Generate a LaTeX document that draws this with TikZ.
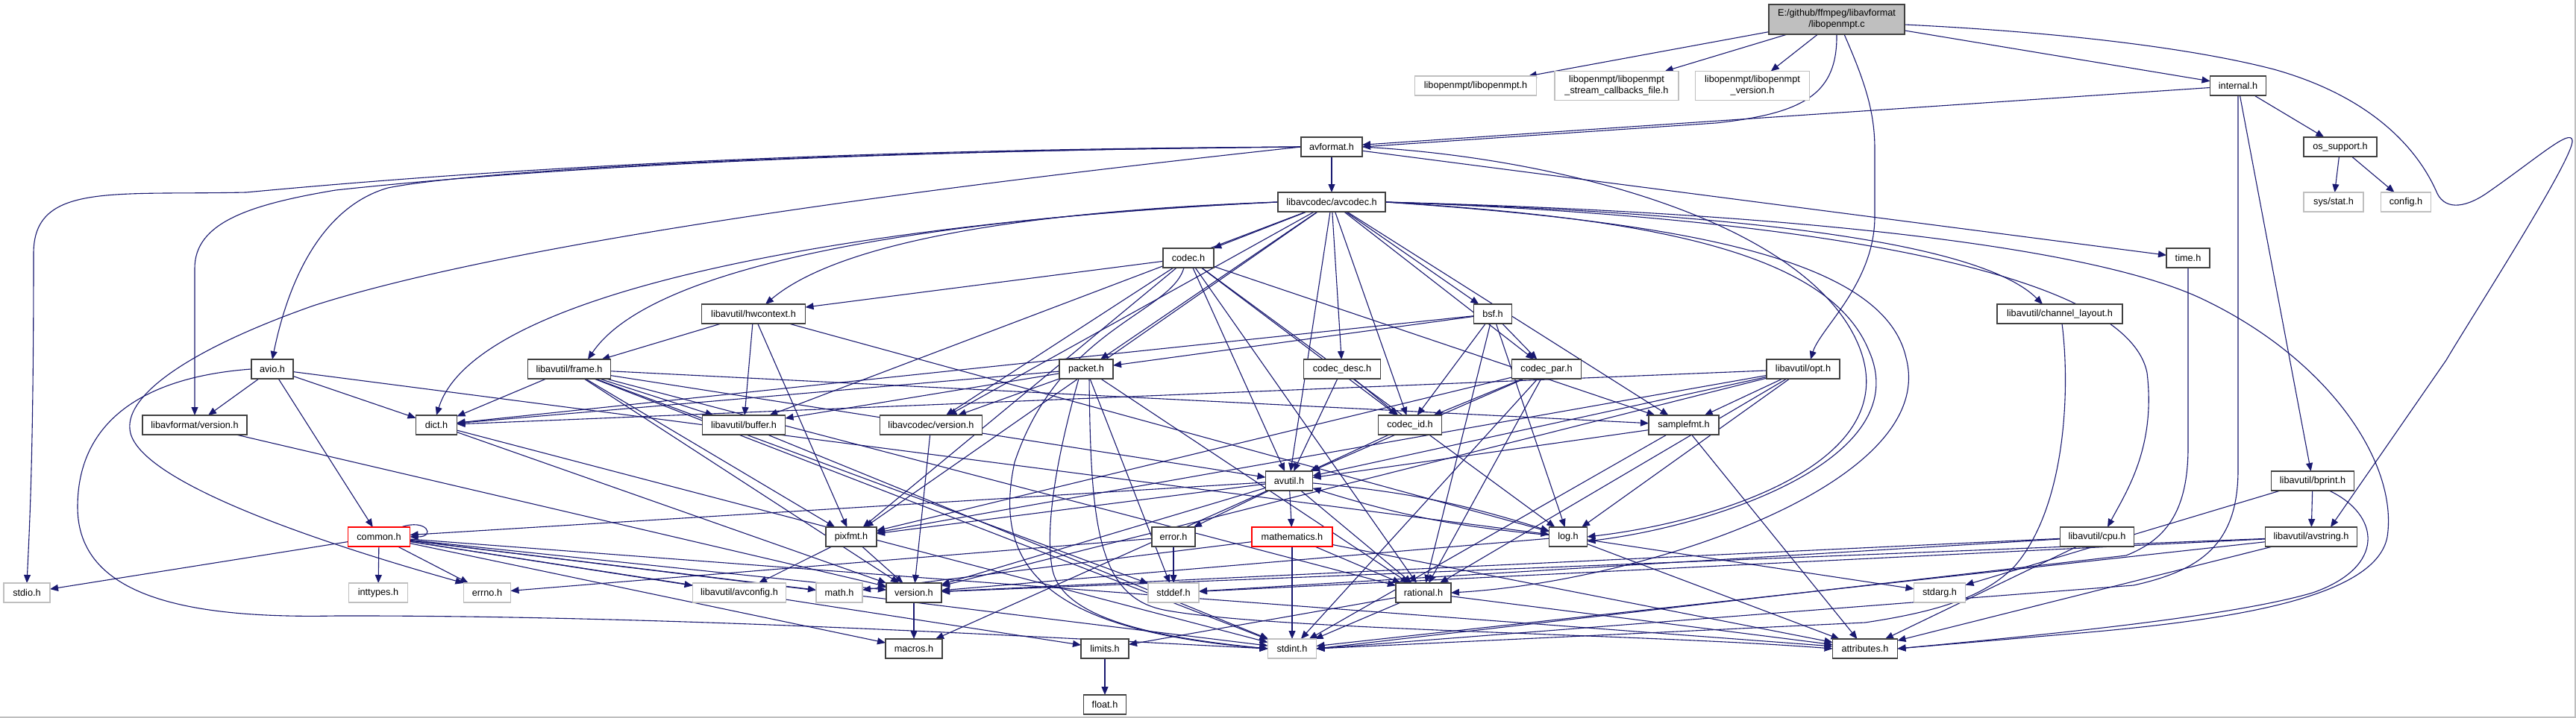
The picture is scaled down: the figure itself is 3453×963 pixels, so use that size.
\documentclass[tikz,border=0pt]{standalone}
\usepackage{fontspec}
\newfontfamily\dfont{Liberation Sans}
\usetikzlibrary{arrows.meta,calc}
\definecolor{edgec}{RGB}{25,25,112}
\definecolor{nodeb}{RGB}{64,64,64}
\definecolor{grayb}{RGB}{191,191,191}
\definecolor{mainf}{RGB}{191,191,191}
\pgfdeclarelayer{bg}
\pgfsetlayers{bg,main}
\tikzset{
 nd/.style={draw=nodeb, fill=white, line width=1.3pt, minimum height=26pt, inner sep=0pt, outer sep=0pt, font=\dfont\fontsize{12.7}{15}\selectfont, text=black},
 gy/.style={nd, draw=grayb},
 rd/.style={nd, draw=red},
 e/.style={draw=edgec, line width=1.1pt, -{Triangle[length=11pt,width=9pt]}},
}
\begin{document}
\begin{tikzpicture}[x=1pt,y=-1pt]
\useasboundingbox (0,0) rectangle (3453,963);
% nodes
\node[nd, fill=mainf, minimum width=182pt, minimum height=40pt, align=center] (main) at (2462,26) {E:/github/ffmpeg/libavformat\\/libopenmpt.c};
\node[gy, minimum width=163pt] (lompt) at (1978,115) {libopenmpt/libopenmpt.h};
\node[gy, minimum width=166pt, minimum height=39pt, align=center] (lcb) at (2167,115) {libopenmpt/libopenmpt\\\_stream\_callbacks\_file.h};
\node[gy, minimum width=153pt, minimum height=39pt, align=center] (lver) at (2349,115) {libopenmpt/libopenmpt\\\_version.h};
\node[nd, minimum width=75pt] (internal) at (3000,115) {internal.h};
\node[nd, minimum width=82pt] (avformat) at (1785,197) {avformat.h};
\node[nd, minimum width=98pt] (ossup) at (3137,197) {os\_support.h};
\node[nd, minimum width=144pt] (avcodec) at (1785,271) {libavcodec/avcodec.h};
\node[gy, minimum width=80pt] (sysstat) at (3128,271) {sys/stat.h};
\node[gy, minimum width=67pt] (config) at (3225,271) {config.h};
\node[nd, minimum width=68pt] (codec) at (1593,346) {codec.h};
\node[nd, minimum width=58pt] (timeh) at (2933,346) {time.h};
\node[nd, minimum width=139pt] (hwctx) at (1010,421) {libavutil/hwcontext.h};
\node[nd, minimum width=51pt] (bsf) at (2001,421) {bsf.h};
\node[nd, minimum width=168pt] (chl) at (2761,421) {libavutil/channel\_layout.h};
\node[nd, minimum width=56pt] (avio) at (365,495) {avio.h};
\node[nd, minimum width=111pt] (frame) at (763,495) {libavutil/frame.h};
\node[nd, minimum width=72pt] (packet) at (1456,495) {packet.h};
\node[nd, minimum width=103pt] (cdesc) at (1799,495) {codec\_desc.h};
\node[nd, minimum width=93pt] (cpar) at (2073,495) {codec\_par.h};
\node[nd, minimum width=98pt] (opt) at (2417,495) {libavutil/opt.h};
\node[nd, minimum width=140pt] (lavfver) at (261,570) {libavformat/version.h};
\node[nd, minimum width=55pt] (dict) at (585,570) {dict.h};
\node[nd, minimum width=111pt] (buffer) at (997,570) {libavutil/buffer.h};
\node[nd, minimum width=137pt] (lavcver) at (1248,570) {libavcodec/version.h};
\node[nd, minimum width=85pt] (cid) at (1890,570) {codec\_id.h};
\node[nd, minimum width=94pt] (sfmt) at (2257,570) {samplefmt.h};
\node[nd, minimum width=63pt] (avutil) at (1728,645) {avutil.h};
\node[nd, minimum width=111pt] (bprint) at (3100,645) {libavutil/bprint.h};
\node[rd, minimum width=83pt] (common) at (508,720) {common.h};
\node[nd, minimum width=68pt] (pixfmt) at (1141,720) {pixfmt.h};
\node[nd, minimum width=58pt] (error) at (1573,720) {error.h};
\node[rd, minimum width=108pt] (mathem) at (1732,720) {mathematics.h};
\node[nd, minimum width=51pt] (log) at (2102,720) {log.h};
\node[nd, minimum width=99pt] (cpu) at (2811,720) {libavutil/cpu.h};
\node[nd, minimum width=123pt] (avstring) at (3098,720) {libavutil/avstring.h};
\node[gy, minimum width=62pt] (stdio) at (36,795) {stdio.h};
\node[gy, minimum width=79pt] (inttypes) at (507,795) {inttypes.h};
\node[gy, minimum width=63pt] (errno) at (653,795) {errno.h};
\node[gy, minimum width=125pt] (avconfig) at (991,795) {libavutil/avconfig.h};
\node[gy, minimum width=62pt] (mathh) at (1125,795) {math.h};
\node[nd, minimum width=74pt] (version) at (1225,795) {version.h};
\node[gy, minimum width=68pt] (stddef) at (1573,795) {stddef.h};
\node[nd, minimum width=74pt] (rational) at (1908,795) {rational.h};
\node[gy, minimum width=69pt] (stdarg) at (2600,795) {stdarg.h};
\node[nd, minimum width=76pt] (macros) at (1225,870) {macros.h};
\node[nd, minimum width=64pt] (limits) at (1481,870) {limits.h};
\node[gy, minimum width=65pt] (stdint) at (1732,870) {stdint.h};
\node[nd, minimum width=87pt] (attributes) at (2500,870) {attributes.h};
\node[nd, minimum width=57pt] (float) at (1481,945) {float.h};
\begin{pgfonlayer}{bg}
\fill[white] (0,0) rectangle (3453,963);
\draw[grayb, line width=2pt] (0,962) -- (3452,962) -- (3452,0);
\foreach \a/\b in {main/lompt, main/lcb, main/lver, main/internal,
 internal/avformat, internal/ossup, internal/bprint, ossup/sysstat, ossup/config,
 avformat/avcodec, avformat/timeh,
 avcodec/codec, avcodec/bsf, avcodec/cdesc, avcodec/cpar, avcodec/cid, avcodec/packet, avcodec/lavcver, avcodec/avutil, avcodec/buffer, avcodec/sfmt, avcodec/pixfmt,
 codec/hwctx, codec/avutil, codec/log, codec/pixfmt, codec/rational, codec/sfmt, codec/cid, codec/lavcver,
 bsf/dict, bsf/log, bsf/rational, bsf/cid, bsf/cpar, bsf/packet,
 cdesc/avutil, cdesc/cid, cid/avutil,
 cpar/stdint, cpar/avutil, cpar/rational, cpar/pixfmt, cpar/cid,
 packet/stddef, packet/buffer, packet/dict, packet/rational, packet/lavcver,
 lavcver/version,
 hwctx/buffer, hwctx/frame, hwctx/log, hwctx/pixfmt,
 frame/stddef, frame/stdint, frame/avutil, frame/buffer, frame/dict, frame/rational, frame/sfmt, frame/pixfmt, frame/version,
 buffer/stdint, dict/stdint, dict/version,
 sfmt/stdint, sfmt/avutil, sfmt/attributes,
 avutil/common, avutil/error, avutil/rational, avutil/version, avutil/macros, avutil/mathem, avutil/pixfmt,
 common/errno, common/inttypes, common/limits, common/mathh, common/stdint, common/stdio, common/attributes, common/macros, common/version, common/avconfig,
 error/errno, error/stddef,
 rational/stdint, rational/limits, rational/attributes,
 mathem/stdint, mathem/mathh, mathem/attributes, mathem/rational,
 log/stdarg, log/attributes, log/version,
 pixfmt/avconfig, pixfmt/version, version/macros,
 cpu/stddef, cpu/attributes, cpu/version,
 opt/rational, opt/avutil, opt/dict, opt/log, opt/pixfmt, opt/sfmt, opt/version,
 avstring/stddef, avstring/stdint, avstring/attributes, avstring/version,
 bprint/stdarg, bprint/avstring,
 avio/common, avio/dict, avio/log, avio/lavfver,
 lavfver/version, limits/float}
 \draw[e] (\a) -- (\b);
\draw[e] (avformat.east) .. controls (2100,212) and (2420,300) .. (2490,460) .. controls (2560,620) and (2300,700) .. (log.east);
\draw[e] (avcodec.east) .. controls (2200,292) and (2450,335) .. (2505,470) .. controls (2570,615) and (2300,705) .. ([yshift=-6pt]log.east);
\draw[e] (avcodec.east) .. controls (2250,298) and (2525,345) .. (2555,480) .. controls (2600,650) and (2200,780) .. (rational.east);
\draw[e] (avcodec.east) .. controls (2300,285) and (2650,320) .. ([xshift=-23pt]chl.north);
\draw[e] ([xshift=4pt]packet.south) .. controls (1462,700) and (1470,800) .. (1560,818) .. controls (1700,845) and (2200,850) .. (attributes.west);
\draw[e] ([xshift=-10pt]packet.south) .. controls (1420,600) and (1400,700) .. (1410,760) .. controls (1420,830) and (1550,855) .. (stdint.west);
\draw[e] ([xshift=-6pt]codec.south) .. controls (1570,420) and (1420,440) .. (1360,620) .. controls (1330,760) and (1400,845) .. (stdint.west);
\draw[e] (avutil) to[bend left=6] (log);
\draw[e] (log) to[bend left=6] (avutil);
\draw[e] ([xshift=-12pt]common.north east) .. controls +(35,-12) and +(35,0) .. (common.east);
\draw[e] (main.south) .. controls (2463,125) and (2420,152) .. (2300,165) -- (avformat.east);
\draw[e] ([xshift=10pt]main.south) .. controls (2500,110) and (2513,150) .. (2513,200) -- (2513,290) .. controls (2513,380) and (2440,440) .. ([xshift=10pt]opt.north);
\draw[e] ([yshift=-7pt]main.east) .. controls (2800,45) and (2960,70) .. (3048,93) .. controls (3180,130) and (3240,200) .. (3265,255) .. controls (3275,282) and (3302,280) .. (3332,260) .. controls (3400,213) and (3445,172) .. (3448,188) .. controls (3452,210) and (3310,430) .. (3279,483) -- ([xshift=26pt]avstring.north);
\draw[e] (avformat.west) .. controls (1100,200) and (650,228) .. (330,258) .. controls (150,262) and (45,245) .. (45,340) .. controls (45,600) and (40,700) .. (stdio.north);
\draw[e] (avformat.west) .. controls (1100,203) and (700,228) .. (450,255) .. controls (330,275) and (261,300) .. (261,360) -- (lavfver.north);
\draw[e] (avformat.west) .. controls (1100,203) and (640,228) .. (520,252) .. controls (440,275) and (390,360) .. (avio.north);
\draw[e] (avformat.west) .. controls (1300,245) and (700,320) .. (420,410) .. controls (250,470) and (170,530) .. (174,575) .. controls (178,640) and (400,720) .. (errno.north west);
\draw[e] (avcodec.west) .. controls (1400,282) and (1130,320) .. ([xshift=16pt]hwctx.north);
\draw[e] (avcodec.west) .. controls (1300,290) and (880,345) .. ([xshift=25pt]frame.north);
\draw[e] (avcodec.west) .. controls (1200,295) and (640,380) .. (dict.north);
\draw[e] (avcodec.east) .. controls (2400,285) and (2800,330) .. (2950,400) .. controls (3120,480) and (3215,620) .. (3200,720) .. controls (3185,800) and (3000,830) .. (2800,848) -- (attributes.east);
\draw[e] (avcodec.east) .. controls (2400,290) and (2850,360) .. (2878,500) .. controls (2890,600) and (2850,660) .. ([xshift=14pt]cpu.north);
\draw[e] ([xshift=22pt]bprint.south) .. controls (3190,690) and (3200,760) .. (3100,795) .. controls (2980,830) and (2700,855) .. (attributes.east);
\draw[e] (internal.south) -- (3000,630) .. controls (3000,730) and (2950,765) .. (2860,785) -- (stdint.east);
\draw[e] (timeh.south) -- (2933,600) .. controls (2933,690) and (2900,725) .. (2850,745) -- (stdint.east);
\draw[e] ([xshift=3pt]chl.south) .. controls (2775,520) and (2770,680) .. (2700,760) .. controls (2660,800) and (2600,820) .. (2500,835) -- (stdint.east);
\draw[e] (avio.west) .. controls (200,505) and (104,560) .. (104,680) .. controls (104,800) and (250,830) .. (450,826) .. controls (900,825) and (1400,855) .. (stdint.west);
\end{pgfonlayer}
\end{tikzpicture}
\end{document}
